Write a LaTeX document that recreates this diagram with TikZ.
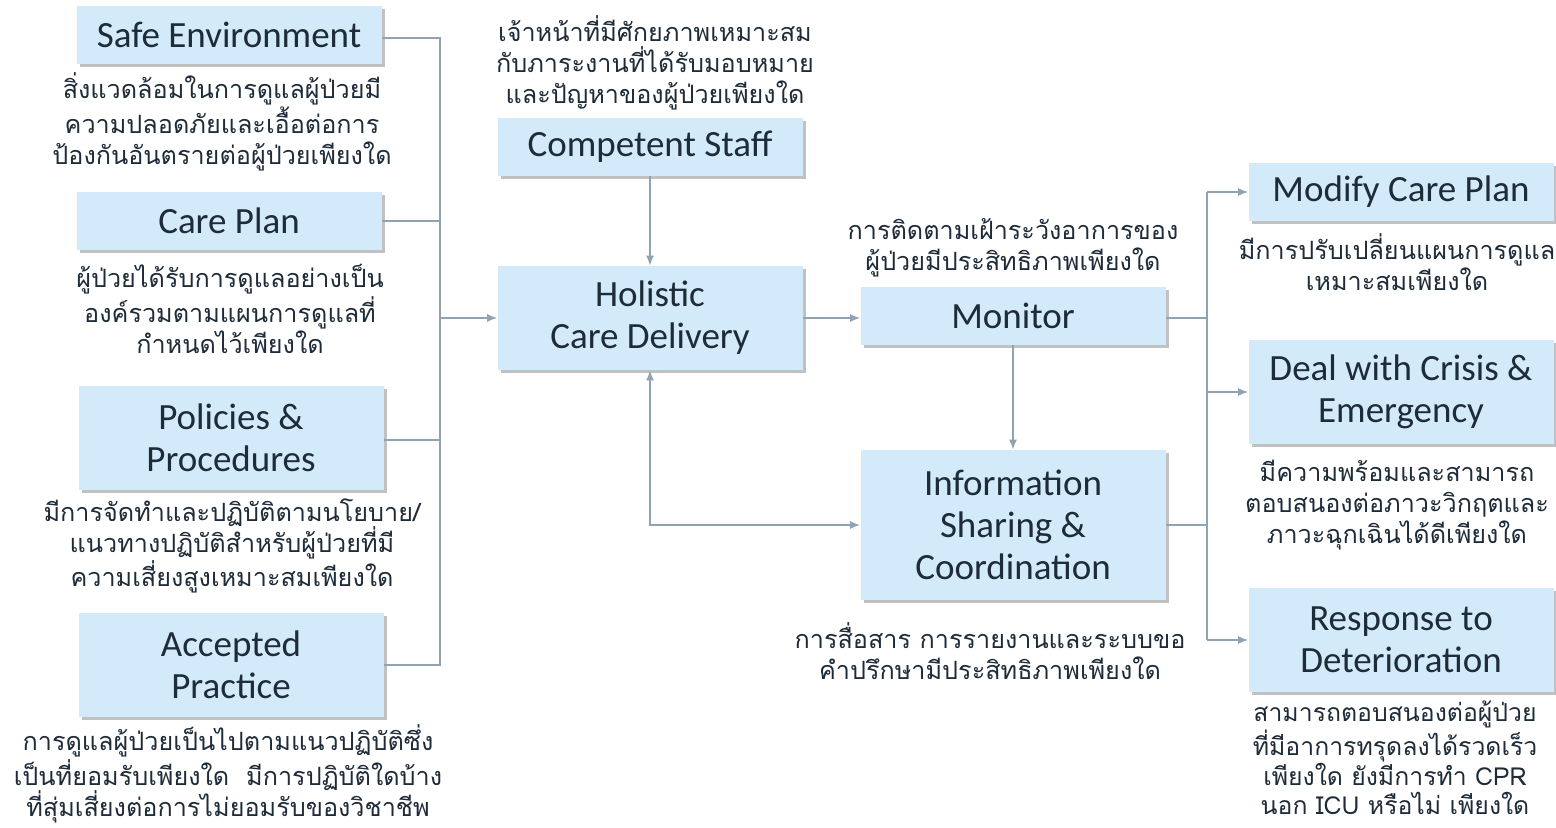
\documentclass[tikz,border=0pt]{standalone}
\usepackage{fontspec}
\setmainfont{Carlito}
\newfontfamily\thaifont[Script=Thai]{Loma}
\usepackage{xcolor}
\usetikzlibrary{arrows.meta,shadows,positioning}
\definecolor{boxfill}{HTML}{D2EAFA}
\definecolor{linegray}{HTML}{8FA3B3}
\definecolor{inkdark}{HTML}{1E2B38}
\tikzset{
	>={Latex[length=5pt,width=4pt]},
	block/.style = {
			fill=boxfill, text=inkdark,
			minimum width=152.5pt, inner sep=2pt, align=center,
			font=\fontsize{18.5}{21}\selectfont,
			drop shadow={shadow xshift=1.6pt, shadow yshift=-1.6pt, fill=gray!70, opacity=.7},
		},
	note/.style = {
			align=center, text=inkdark, inner sep=0pt,
			font=\thaifont\fontsize{12.6}{15.5}\selectfont,
		},
	link/.style = {draw=linegray, line width=0.7pt},
}

\begin{document}
\begin{tikzpicture}[x=0.5pt,y=-0.5pt]
			\useasboundingbox (0,0) rectangle (1556,828);
			% Inputs on the left
			\node[block,minimum height=29pt] (Safe Environment) at (229,35) {Safe Environment};
			\node[block,minimum height=29pt] (Care Plan) at (229,221) {Care Plan};
			\node[block,minimum height=52pt] (Policies) at (231,438) {Policies \&\\Procedures};
			\node[block,minimum height=52pt] (Accepted Practice) at (231,665) {Accepted\\Practice};

			\node[note] (Safe note) at (222,122) {สิ่งแวดล้อมในการดูแลผู้ป่วยมี\\ความปลอดภัยและเอื้อต่อการ\\ป้องกันอันตรายต่อผู้ป่วยเพียงใด};
			\node[note] (Care note) at (230,309) {ผู้ป่วยได้รับการดูแลอย่างเป็น\\องค์รวมตามแผนการดูแลที่\\กำหนดไว้เพียงใด};
			\node[note] (Policies note) at (232,546) {มีการจัดทำและปฏิบัติตามนโยบาย/\\แนวทางปฏิบัติสำหรับผู้ป่วยที่มี\\ความเสี่ยงสูงเหมาะสมเพียงใด};
			\node[note] (Accepted note) at (228,774) {การดูแลผู้ป่วยเป็นไปตามแนวปฏิบัติซึ่ง\\เป็นที่ยอมรับเพียงใด~~มีการปฏิบัติใดบ้าง\\ที่สุ่มเสี่ยงต่อการไม่ยอมรับของวิชาชีพ};

			% Centre
			\node[block,minimum height=29pt] (Competent Staff) at (650,147) {Competent Staff};
			\node[block,minimum height=52pt] (Holistic) at (650,318) {Holistic\\Care Delivery};
			\node[block,minimum height=29pt] (Monitor) at (1013,316) {Monitor};
			\node[block,minimum height=75pt] (Information) at (1013,525) {Information\\Sharing \&\\Coordination};

			\node[note] (Staff note) at (655,63) {เจ้าหน้าที่มีศักยภาพเหมาะสม\\กับภาระงานที่ได้รับมอบหมาย\\และปัญหาของผู้ป่วยเพียงใด};
			\node[note] (Monitor note) at (1013,248) {การติดตามเฝ้าระวังอาการของ\\ผู้ป่วยมีประสิทธิภาพเพียงใด};
			\node[note] (Information note) at (990,651) {การสื่อสาร การรายงานและระบบขอ\\คำปรึกษามีประสิทธิภาพเพียงใด};

			% Outcomes on the right
			\node[block,minimum height=29pt] (Modify Care Plan) at (1401,192) {Modify Care Plan};
			\node[block,minimum height=52pt] (Crisis) at (1401,392) {Deal with Crisis \&\\Emergency};
			\node[block,minimum height=52pt] (Deterioration) at (1401,640) {Response to\\Deterioration};

			\node[note] (Modify note) at (1397,262) {มีการปรับเปลี่ยนแผนการดูแล\\เหมาะสมเพียงใด};
			\node[note] (Crisis note) at (1397,505) {มีความพร้อมและสามารถ\\ตอบสนองต่อภาวะวิกฤตและ\\ภาวะฉุกเฉินได้ดีเพียงใด};
			\node[note,font=\thaifont\fontsize{12.4}{14.8}\selectfont] (Deterioration note) at (1395,758) {สามารถตอบสนองต่อผู้ป่วย\\ที่มีอาการทรุดลงได้รวดเร็ว\\เพียงใด ยังมีการทำ CPR\\นอก ICU หรือไม่ เพียงใด};

			% Joints
			\coordinate (Joint1) at (440,38);
			\coordinate (Joint2) at (440,221);
			\coordinate (Joint3) at (440,440);
			\coordinate (Joint4) at (440,665);
			\coordinate (Joint5) at (440,318);
			\coordinate (Joint6) at (650,525);
			\coordinate (Joint7) at (1207,318);
			\coordinate (Joint8) at (1207,525);
			\coordinate (Joint9) at (1207,192);
			\coordinate (Joint10) at (1207,392);
			\coordinate (Joint11) at (1207,640);

			\draw[link] (Safe Environment.east |- Joint1) -- (Joint1) -- (Joint4) -- (Accepted Practice.east |- Joint4);
			\draw[link] (Care Plan.east) -- (Joint2);
			\draw[link] (Policies.east |- Joint3) -- (Joint3);
			\draw[link,->] (Joint5) -- (Holistic.west);
			\draw[link,->] (Competent Staff) -- (Holistic);
			\draw[link,->] (Holistic.east) -- (Monitor.west |- Holistic.east);
			\draw[link,->] (Monitor) -- (Information);
			\draw[link,<->] (Holistic.south) -- (Joint6) -- (Information.west);
			\draw[link] (Monitor.east |- Joint7) -- (Joint7);
			\draw[link] (Information.east) -- (Joint8);
			\draw[link] (Joint9) -- (Joint11);
			\draw[link,->] (Joint9) -- (Modify Care Plan.west);
			\draw[link,->] (Joint10) -- (Crisis.west);
			\draw[link,->] (Joint11) -- (Deterioration.west);
		\end{tikzpicture}
\end{document}
